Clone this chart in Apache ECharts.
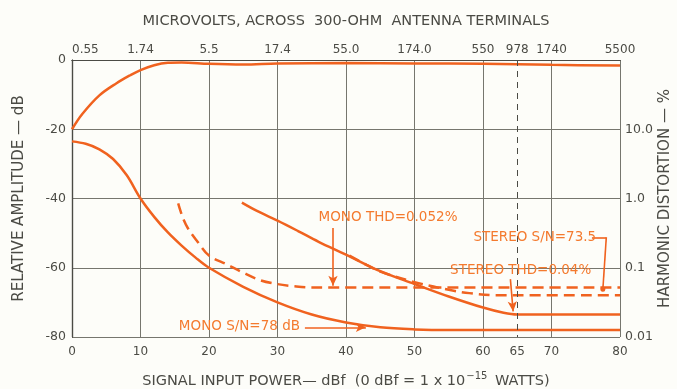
<!DOCTYPE html>
<html>
<head>
<meta charset="utf-8">
<style>
  html, body { margin: 0; padding: 0; background: #fdfdf9; }
  #chart { width: 677px; height: 389px; }
</style>
<script src="https://cdn.jsdelivr.net/npm/echarts@6/dist/echarts.min.js"></script>
</head>
<body>
<div id="chart"></div>
<script>
// Tick positions (dBf) that carry labels, and the matching microvolt values on the top scale
const labeledTicks = [0, 10, 20, 30, 40, 50, 60, 65, 70, 80];
const microvoltLabels = ['0.55', '1.74', '5.5', '17.4', '55.0', '174.0', '550', '978', '1740', '5500'];

// Relative amplitude, dB versus signal input, dBf
const outputLevel = [[0, -20], [1.5, -15.6], [4, -10.2], [6.5, -6.7], [8.5, -4.4], [10, -2.9], [12, -1.5], [14, -0.8],
  [16, -0.7], [20, -1.1], [25, -1.3], [30, -1.0], [40, -0.9], [50, -1.0], [60, -1.1], [70, -1.4], [80, -1.6]];
const monoNoise = [[0, -23.5], [2, -24.2], [4, -25.8], [6, -28.6], [8, -33.3], [10, -40], [12, -45.3], [14, -49.8],
  [16, -53.6], [18, -57], [20, -60], [25, -65.5], [30, -70], [35, -73.5], [40, -75.8], [45, -77.2], [50, -77.8], [55, -78], [80, -78]];
const stereoNoise = [[24.8, -41.2], [27, -43.6], [30, -46.4], [33, -49.4], [36, -52.5], [40, -56.2], [45, -61],
  [50, -64.7], [55, -68.3], [60, -71.5], [63, -73], [65, -73.5], [80, -73.5]];

// Harmonic distortion, percent
const monoThd = [[15.5, 0.85], [16.2, 0.52], [17, 0.36], [18.3, 0.24], [20, 0.15], [22.5, 0.113], [25, 0.085],
  [27.5, 0.066], [30, 0.058], [32.5, 0.054], [35, 0.052], [80, 0.052]];
const stereoThd = [[40.5, 0.15], [43, 0.11], [45, 0.088], [50, 0.062], [55, 0.048], [58, 0.043], [62, 0.04], [80, 0.04]];

const INK = '#4b4b45';
const GRID = '#76766e';
const ORANGE = '#f0621f';
const NOTE = '#f47a2e';
const FONT = '"DejaVu Sans", sans-serif';

const chart = echarts.init(document.getElementById('chart'), null, { renderer: 'canvas' });

function tickText(labels) {
  return function (v) {
    const i = labeledTicks.indexOf(Math.round(v));
    return (i >= 0 && Math.abs(v - labeledTicks[i]) < 1e-6) ? labels[i] : '';
  };
}
const dbfLabels = labeledTicks.map(String);

const leader = { color: ORANGE, width: 1.6, type: 'solid' };
const arrowLine = (a, b, end) => [
  { coord: a, symbol: 'none' },
  { coord: b, symbol: end || 'arrow', symbolSize: end === 'circle' ? 5 : [7, 10] }
];

const curve = (name, data, yAxisIndex, dashed) => ({
  name, type: 'line', data, xAxisIndex: 0, yAxisIndex,
  smooth: 0.35, showSymbol: false, symbol: 'none',
  lineStyle: { color: ORANGE, width: 2.5, type: dashed ? [11, 6] : 'solid' }
});

const option = {
  animation: false,
  backgroundColor: '#fdfdf9',
  grid: { left: 72, right: 57, top: 60, bottom: 52, containLabel: false, outerBoundsMode: 'none' },
  xAxis: [
    {
      type: 'value', position: 'bottom', min: 0, max: 80, interval: 5,
      axisLine: { lineStyle: { color: INK, width: 1.2 } },
      axisTick: { show: false },
      splitLine: { show: false },
      axisLabel: { color: INK, fontFamily: FONT, fontSize: 12, margin: 9, formatter: tickText(dbfLabels) },
      name: 'SIGNAL INPUT POWER\u2014 dBf  (0 dBf = 1 x 10{sup|\u221215} WATTS)',
      nameLocation: 'middle', nameGap: 34,
      nameTextStyle: {
        color: INK, fontFamily: FONT, fontSize: 14.5,
        rich: { sup: { fontSize: 10, color: INK, fontFamily: FONT, padding: [0, 3, 10, 1] } }
      }
    },
    {
      type: 'value', position: 'top', min: 0, max: 80, interval: 5,
      axisLine: { lineStyle: { color: INK, width: 1.2 } },
      axisTick: { show: false },
      splitLine: { show: false },
      axisLabel: { color: INK, fontFamily: FONT, fontSize: 12, margin: 4, alignMinLabel: 'left', formatter: tickText(microvoltLabels) },
      name: 'MICROVOLTS, ACROSS  300-OHM  ANTENNA TERMINALS',
      nameLocation: 'middle', nameGap: 31,
      nameTextStyle: { color: INK, fontFamily: FONT, fontSize: 14.5 }
    },
    {
      // vertical rules every 10 dBf
      type: 'value', position: 'bottom', min: 0, max: 80, interval: 10,
      axisLine: { show: false }, axisTick: { show: false }, axisLabel: { show: false },
      splitLine: { show: true, lineStyle: { color: GRID, width: 1 } }
    }
  ],
  yAxis: [
    {
      type: 'value', min: -80, max: 0, interval: 20, position: 'left',
      axisLine: { show: true, lineStyle: { color: INK, width: 1.2 } },
      axisTick: { show: false },
      splitLine: { show: true, lineStyle: { color: GRID, width: 1 } },
      axisLabel: { color: INK, fontFamily: FONT, fontSize: 12.5, margin: 6 },
      name: 'RELATIVE AMPLITUDE \u2014 dB', nameLocation: 'middle', nameGap: 45, nameRotate: 90,
      nameTextStyle: { color: INK, fontFamily: FONT, fontSize: 15 }
    },
    {
      type: 'log', logBase: 10, min: 0.01, max: 100, position: 'right',
      axisLine: { show: true, lineStyle: { color: INK, width: 1.2 } },
      axisTick: { show: false },
      splitLine: { show: false },
      axisLabel: {
        color: INK, fontFamily: FONT, fontSize: 12.5, margin: 5,
        formatter: function (v) {
          if (v > 50) return '';
          if (Math.abs(v - 10) < 1e-6) return '10.0';
          if (Math.abs(v - 1) < 1e-6) return '1.0';
          if (Math.abs(v - 0.1) < 1e-6) return '0.1';
          if (Math.abs(v - 0.01) < 1e-6) return '0.01';
          return '';
        }
      },
      name: 'HARMONIC DISTORTION \u2014 %', nameLocation: 'middle', nameGap: 38, nameRotate: 90,
      nameMoveOverlap: false,
      nameTextStyle: { color: INK, fontFamily: FONT, fontSize: 15 }
    }
  ],
  series: [
    curve('Output level', outputLevel, 0, false),
    Object.assign(curve('Mono S/N', monoNoise, 0, false), {
      markLine: {
        silent: true, label: { show: false }, lineStyle: leader,
        data: [
          arrowLine([34, -77.2], [42.9, -77.2]),
          arrowLine([38.1, -48.5], [38.1, -65.2])
        ]
      }
    }),
    Object.assign(curve('Stereo S/N', stereoNoise, 0, false), {
      markLine: {
        silent: true, label: { show: false }, lineStyle: leader,
        data: [
          arrowLine([64, -63.3], [64.4, -72.6]),
          arrowLine([75.9, -51.2], [78, -51.2], 'none'),
          arrowLine([78, -51.2], [77.5, -66.2], 'circle'),
          [
            { coord: [65, 0], symbol: 'none', lineStyle: { color: INK, width: 1, type: [6, 5] } },
            { coord: [65, -80], symbol: 'none' }
          ]
        ]
      }
    }),
    curve('Mono THD', monoThd, 1, true),
    curve('Stereo THD', stereoThd, 1, true)
  ]
};

chart.setOption(option);

// Curve callouts, anchored in data coordinates (dBf, dB)
const callouts = [
  { text: 'MONO THD=0.052%', at: [36, -45.6] },
  { text: 'STEREO S/N=73.5', at: [58.6, -51.2] },
  { text: 'STEREO THD=0.04%', at: [55.2, -60.7] },
  { text: 'MONO S/N=78 dB', at: [15.6, -76.9] }
];
chart.setOption({
  graphic: callouts.map(c => {
    const p = chart.convertToPixel({ xAxisIndex: 0, yAxisIndex: 0 }, c.at);
    return {
      type: 'text', x: p[0], y: p[1], z: 100,
      style: { text: c.text, fill: NOTE, font: '13.5px ' + FONT, verticalAlign: 'middle', align: 'left' }
    };
  })
});
</script>
</body>
</html>
